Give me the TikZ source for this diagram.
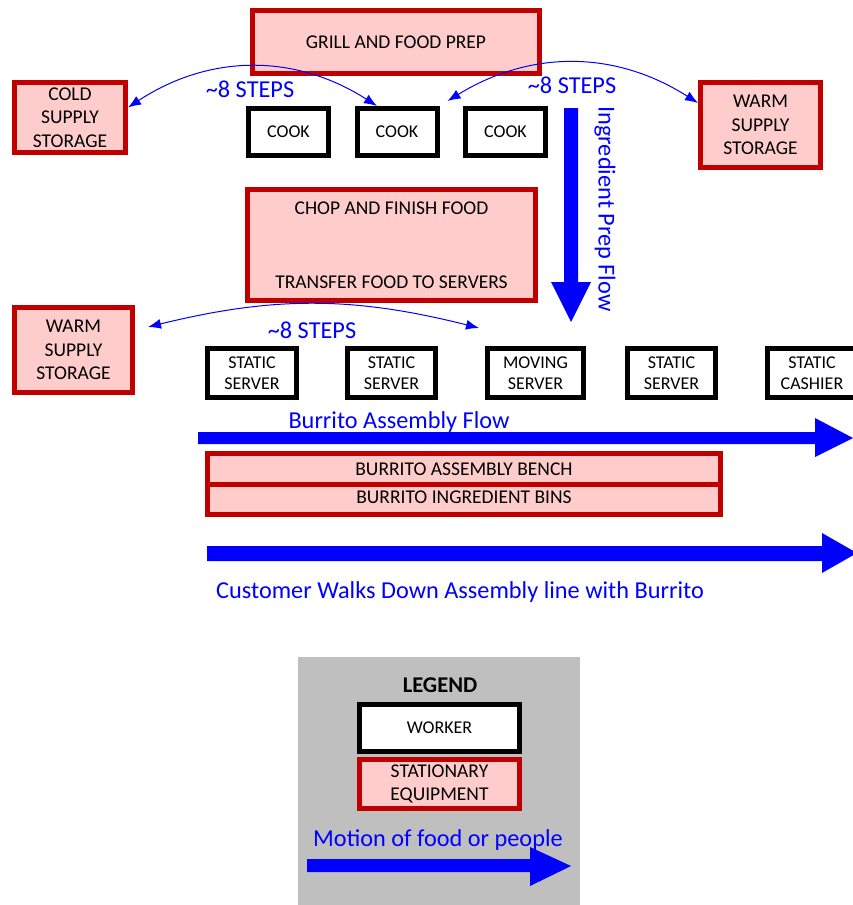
\documentclass[tikz,border=0pt]{standalone}
\usepackage{fontspec}
\setmainfont{Carlito}
\usetikzlibrary{arrows.meta,calc}
\definecolor{eqred}{HTML}{C00000}
\definecolor{eqfill}{HTML}{FFCCCC}
\definecolor{flowblue}{HTML}{0000FF}
\definecolor{leggray}{HTML}{BFBFBF}
\begin{document}
\begin{tikzpicture}[x=1pt,y=-1pt,
 equip/.style={draw=eqred, fill=eqfill, line width=5pt, align=center, inner sep=0pt, font=\fontsize{19.5}{23.5}\selectfont},
 worker/.style={draw=black, fill=white, line width=5pt, align=center, inner sep=0pt, font=\fontsize{18}{21}\selectfont},
 bluetext/.style={text=flowblue, font=\fontsize{24.3}{28}\selectfont, inner sep=0pt},
 steparc/.style={draw=flowblue, line width=1pt, {Latex[length=13pt,width=10pt]}-{Latex[length=13pt,width=10pt]}},
 bigarrow/.style={fill=flowblue}]
\useasboundingbox (0,0) rectangle (853,905);

% legend background
\node[fill=leggray, minimum width=282, minimum height=252, anchor=north west, inner sep=0pt, outer sep=0pt] (legendbg) at (298,657) {};

% equipment and workers
\node[equip, minimum width=287, minimum height=63] (grill) at (396,42) {GRILL AND FOOD PREP};
\node[equip, minimum width=111, minimum height=70] (cold) at (70,117.5) {COLD\\SUPPLY\\STORAGE};
\node[worker, minimum width=80, minimum height=47] (cook1) at (288.5,132) {COOK};
\node[worker, minimum width=80, minimum height=47] (cook2) at (397,132) {COOK};
\node[worker, minimum width=80, minimum height=47] (cook3) at (505.5,132) {COOK};
\node[equip, minimum width=120, minimum height=85] (warmR) at (760.5,125) {WARM\\SUPPLY\\STORAGE};
\node[equip, minimum width=288, minimum height=111] (chop) at (391.5,245) {\raisebox{-2pt}{CHOP AND FINISH FOOD}\\[50pt]\raisebox{-2pt}{TRANSFER FOOD TO SERVERS}};
\node[equip, minimum width=118, minimum height=85] (warmL) at (73.5,350) {WARM\\SUPPLY\\STORAGE};

\node[worker, minimum width=89, minimum height=49] (s1) at (252,373) {STATIC\\SERVER};
\node[worker, minimum width=88, minimum height=49] (s2) at (391.5,373) {STATIC\\SERVER};
\node[worker, minimum width=96, minimum height=49] (moving) at (535.5,373) {MOVING\\SERVER};
\node[worker, minimum width=88, minimum height=49] (s3) at (671.5,373) {STATIC\\SERVER};
\node[worker, minimum width=90, minimum height=49] (cashier) at (812,373) {STATIC\\CASHIER};

\node[equip, minimum width=513, minimum height=31] (bench) at (464,469) {\raisebox{-1.5pt}{BURRITO ASSEMBLY BENCH}};
\node[equip, minimum width=513, minimum height=30] (bins) at (464,499.5) {\raisebox{4pt}{BURRITO INGREDIENT BINS}};

% blue labels
\node[bluetext] (steps1) at (250,89) {\textasciitilde8 STEPS};
\node[bluetext] (steps2) at (572,85) {\textasciitilde8 STEPS};
\node[bluetext] (steps3) at (312,330) {\textasciitilde8 STEPS};
\node[bluetext, rotate=-90] (ipf) at (605,209) {Ingredient Prep Flow};
\node[bluetext] (baf) at (399,422) {Burrito Assembly Flow};
\node[bluetext] (cust) at (460,592) {Customer Walks Down Assembly line with Burrito};

% step arcs
\draw[steparc] ([yshift=10pt]cold.east) to[bend left=33] ([xshift=-20pt]cook2.north);
\draw[steparc] ([xshift=8pt,yshift=5pt]cook2.north east) to[bend left=32] ([yshift=22pt]warmR.west);
\draw[steparc] ([xshift=13pt,yshift=23pt]warmL.east) to[bend left=14] ([xshift=-6pt,yshift=18pt]moving.north west);

% big flow arrows
\fill[bigarrow] (564,108) -- (578,108) -- (578,282) -- (591,282) -- (571,322) -- (551,282) -- (564,282) -- cycle;
\fill[bigarrow] (198,432) -- (815,432) -- (815,418) -- (853,438) -- (815,457) -- (815,444) -- (198,444) -- cycle;
\fill[bigarrow] (207,546) -- (822,546) -- (822,533) -- (857,553) -- (822,573) -- (822,561) -- (207,561) -- cycle;

% legend
\node[font=\bfseries\fontsize{22.5}{26}\selectfont, inner sep=0pt] (legtitle) at (440,685) {LEGEND};
\node[worker, minimum width=160, minimum height=47] (legworker) at (439.5,728) {WORKER};
\node[equip, minimum width=160, minimum height=49] (legequip) at (439.5,784) {STATIONARY\\EQUIPMENT};
\node[bluetext] (motion) at (438,840) {Motion of food or people};
\fill[bigarrow] (307,859) -- (530,859) -- (530,847) -- (571,866) -- (530,886) -- (530,872) -- (307,872) -- cycle;
\end{tikzpicture}
\end{document}
